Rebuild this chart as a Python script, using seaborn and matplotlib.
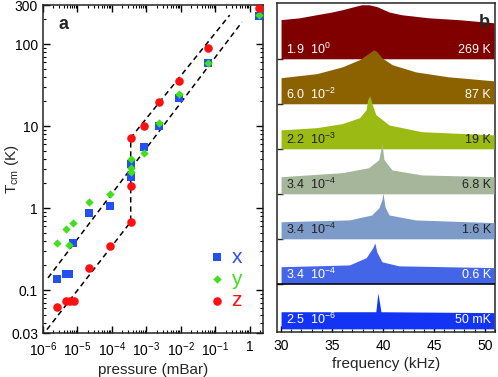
import numpy as np
import seaborn as sns
import matplotlib.pyplot as plt
from matplotlib.ticker import LogLocator, NullFormatter, FixedLocator, MultipleLocator

# ---- panel a: centre-of-mass temperature vs pressure ----
x_pressure = [2.6e-6, 4.5e-6, 5.5e-6, 7.4e-6, 2.2e-5, 8.8e-5, 3.5e-4, 3.5e-4, 8.5e-4, 2.3e-3, 8.7e-3, 0.06, 1.9]
x_temp = [0.137, 0.158, 0.158, 0.376, 0.87, 1.06, 2.4, 3.45, 5.6, 10.0, 22.0, 59.0, 222.0]
y_pressure = [2.6e-6, 4.7e-6, 5.7e-6, 7.4e-6, 2.2e-5, 8.8e-5, 3.5e-4, 3.5e-4, 3.5e-4, 8.5e-4, 2.3e-3, 8.7e-3, 0.06, 1.9]
y_temp = [0.376, 0.556, 0.36, 0.66, 1.19, 1.49, 2.75, 3.1, 4.0, 4.7, 10.9, 24.6, 59.0, 228.0]
z_pressure = [2.6e-6, 4.8e-6, 6.1e-6, 7.7e-6, 2.2e-5, 8.8e-5, 3.5e-4, 3.5e-4, 3.5e-4, 8.5e-4, 2.3e-3, 8.7e-3, 0.06, 1.9]
z_temp = [0.062, 0.0736, 0.0736, 0.0736, 0.186, 0.345, 0.68, 1.86, 7.2, 10.0, 19.7, 36.0, 90.0, 275.0]

# dashed guide lines
guide_xy_p = [1.4e-6, 0.59]
guide_xy_t = [0.141, 186.0]
guide_z_p = [1.3e-6, 3.5e-4, 3.5e-4, 0.26]
guide_z_t = [0.033, 0.68, 7.2, 226.0]

pressure_ticks = [1e-6, 1e-5, 1e-4, 1e-3, 1e-2, 1e-1, 1]
pressure_labels = [r"10$^{-6}$", r"10$^{-5}$", r"10$^{-4}$", r"10$^{-3}$", r"10$^{-2}$", r"10$^{-1}$", "1"]
temp_ticks = [0.03, 0.1, 1, 10, 100, 300]
temp_labels = ["0.03", "0.1", "1", "10", "100", "300"]

# ---- panel b: spectra, top to bottom ----
red_f = [30.0, 31.8, 33.5, 35.0, 36.0, 37.2, 37.9, 38.6, 39.4, 40.6, 41.8, 44.5, 47.4, 50.9]
red_h = [0.87, 0.91, 0.98, 1.04, 1.09, 1.16, 1.2, 1.2, 1.16, 1.04, 0.98, 0.91, 0.87, 0.8]
brown_f = [30.0, 33.5, 36.0, 37.7, 38.4, 39.1, 39.4, 39.9, 40.9, 43.2, 46.4, 50.9]
brown_h = [0.58, 0.67, 0.82, 0.98, 1.09, 1.2, 1.16, 1.02, 0.87, 0.71, 0.6, 0.51]
lime_f = [30.0, 33.5, 36.0, 37.7, 38.35, 38.5, 38.7, 38.9, 39.3, 40.6, 43.8, 50.9]
lime_h = [0.42, 0.47, 0.56, 0.69, 0.87, 1.09, 1.18, 1.02, 0.76, 0.53, 0.38, 0.31]
sage_f = [30.0, 36.0, 38.6, 39.6, 39.9, 40.1, 40.9, 43.8, 50.9]
sage_h = [0.38, 0.47, 0.58, 0.76, 1.13, 0.76, 0.53, 0.42, 0.38]
steel_f = [30.0, 36.7, 38.9, 39.6, 39.9, 40.0, 40.2, 40.6, 43.2, 50.9]
steel_h = [0.38, 0.42, 0.53, 0.69, 0.87, 1.02, 0.71, 0.53, 0.42, 0.36]
royal_f = [30.0, 36.7, 38.35, 39.0, 39.2, 39.4, 39.9, 41.55, 50.9]
royal_h = [0.38, 0.42, 0.58, 0.8, 0.91, 0.71, 0.49, 0.4, 0.36]
blue_f = [30.0, 39.3, 39.4, 39.5, 39.7, 39.8, 50.9]
blue_h = [0.38, 0.38, 0.58, 0.8, 0.53, 0.38, 0.36]

spectra_f = [red_f, brown_f, lime_f, sage_f, steel_f, royal_f, blue_f]
spectra_h = [red_h, brown_h, lime_h, sage_h, steel_h, royal_h, blue_h]
spectra_colors = ["#800000", "#8c6200", "#9cba14", "#a5b69a", "#7d9bc8", "#4565e8", "#1434f5"]
text_colors = ["white", "white", "#222222", "#222222", "#222222", "white", "white"]
pressure_text = [r"1.9  10$^{0}$", r"6.0  10$^{-2}$", r"2.2  10$^{-3}$", r"3.4  10$^{-4}$",
                 r"3.4  10$^{-4}$", r"3.4  10$^{-4}$", r"2.5  10$^{-6}$"]
temp_text = ["269 K", "87 K", "19 K", "6.8 K", "1.6 K", "0.6 K", "50 mK"]

sns.set_theme(style="ticks", rc={"axes.linewidth": 1.1, "xtick.major.width": 1.0, "ytick.major.width": 1.0})
plt.rcParams["font.family"] = ["Liberation Sans", "DejaVu Sans"]
plt.rcParams["mathtext.fontset"] = "custom"
plt.rcParams["mathtext.rm"] = "Liberation Sans"
plt.rcParams["mathtext.it"] = "Liberation Sans:italic"
plt.rcParams["mathtext.bf"] = "Liberation Sans:bold"

fig = plt.figure(figsize=(4.98, 3.77), dpi=100)
ax = fig.add_axes([0.0863, 0.1167, 0.4418, 0.870])
axb = fig.add_axes([0.5562, 0.1194, 0.4378, 0.8727])

# panel a
for gp, gt in [(guide_xy_p, guide_xy_t), (guide_z_p, guide_z_t)]:
    sns.lineplot(x=gp, y=gt, ax=ax, color="black", lw=1.1, estimator=None, sort=False,
                 linestyle=(0, (3.5, 2.5)))
sns.scatterplot(x=x_pressure, y=x_temp, ax=ax, marker="s", s=30, color="#2450f0", linewidth=0, label="x", zorder=3)
sns.scatterplot(x=y_pressure, y=y_temp, ax=ax, marker="D", s=18, color="#3ee01a", linewidth=0, label="y", zorder=3)
sns.scatterplot(x=z_pressure, y=z_temp, ax=ax, marker="o", s=38, color="#ff1010", linewidth=0, label="z", zorder=3)

ax.set_xscale("log")
ax.set_yscale("log")
ax.set_xlim(1e-6, 2.4)
ax.set_ylim(0.03, 300)
ax.xaxis.set_major_locator(FixedLocator(pressure_ticks))
ax.set_xticklabels(pressure_labels)
ax.xaxis.set_minor_locator(LogLocator(base=10, subs=np.arange(2, 10), numticks=20))
ax.xaxis.set_minor_formatter(NullFormatter())
ax.yaxis.set_major_locator(FixedLocator(temp_ticks))
ax.set_yticklabels(temp_labels)
ax.yaxis.set_minor_locator(LogLocator(base=10, subs=np.arange(2, 10), numticks=20))
ax.yaxis.set_minor_formatter(NullFormatter())
ax.tick_params(which="both", direction="in", top=True, right=True, labelsize=10, colors="black")
ax.tick_params(axis="x", which="both", pad=5)
ax.tick_params(which="major", length=5)
ax.tick_params(which="minor", length=2.5, width=0.8)
ax.set_xlabel("pressure (mBar)", fontsize=11, labelpad=3)
ax.set_ylabel(r"T$_{\rm cm}$ (K)", fontsize=11)
ax.yaxis.set_label_coords(-0.10, 0.5)
ax.text(0.07, 0.965, "a", transform=ax.transAxes, fontsize=13, fontweight="bold", va="top")

leg = ax.legend(loc="lower right", bbox_to_anchor=(0.97, 0.025), frameon=False, fontsize=15,
                handletextpad=0.1, labelspacing=0.13, handlelength=1.2, borderpad=0.2)
for txt, col in zip(leg.get_texts(), ["#2450f0", "#3ee01a", "#ff1010"]):
    txt.set_color(col)

# panel b
n = len(spectra_f)
for i in range(n):
    base = n - 1 - i
    f = np.array(spectra_f[i])
    h = np.array(spectra_h[i])
    axb.fill_between(f, base, base + h, color=spectra_colors[i], lw=0, zorder=2 + i)
    axb.text(30.5, base + 0.2, pressure_text[i], color=text_colors[i], fontsize=9, va="center", ha="left", zorder=20)
    axb.text(50.6, base + 0.2, temp_text[i], color=text_colors[i], fontsize=9, va="center", ha="right", zorder=20)
axb.axhline(1.0, color="black", lw=1.1, zorder=30)

axb.set_xlim(29.6, 51.0)
axb.set_ylim(-0.07, 7.24)
axb.xaxis.set_major_locator(MultipleLocator(5))
axb.xaxis.set_minor_locator(MultipleLocator(1))
axb.yaxis.set_major_locator(FixedLocator([1, 2, 3, 4, 5, 6]))
axb.set_yticklabels([])
axb.tick_params(axis="x", which="both", direction="in", labelsize=10, colors="black", pad=5)
axb.tick_params(axis="x", which="major", length=4)
axb.tick_params(axis="x", which="minor", length=2, width=0.8)
axb.tick_params(axis="y", which="major", direction="in", length=4)
axb.set_xlabel("frequency (kHz)", fontsize=11, labelpad=3)
axb.text(0.975, 0.965, "b", transform=axb.transAxes, fontsize=13, fontweight="bold", va="top", ha="right", zorder=40)

fig.savefig("out.png", dpi=100)
